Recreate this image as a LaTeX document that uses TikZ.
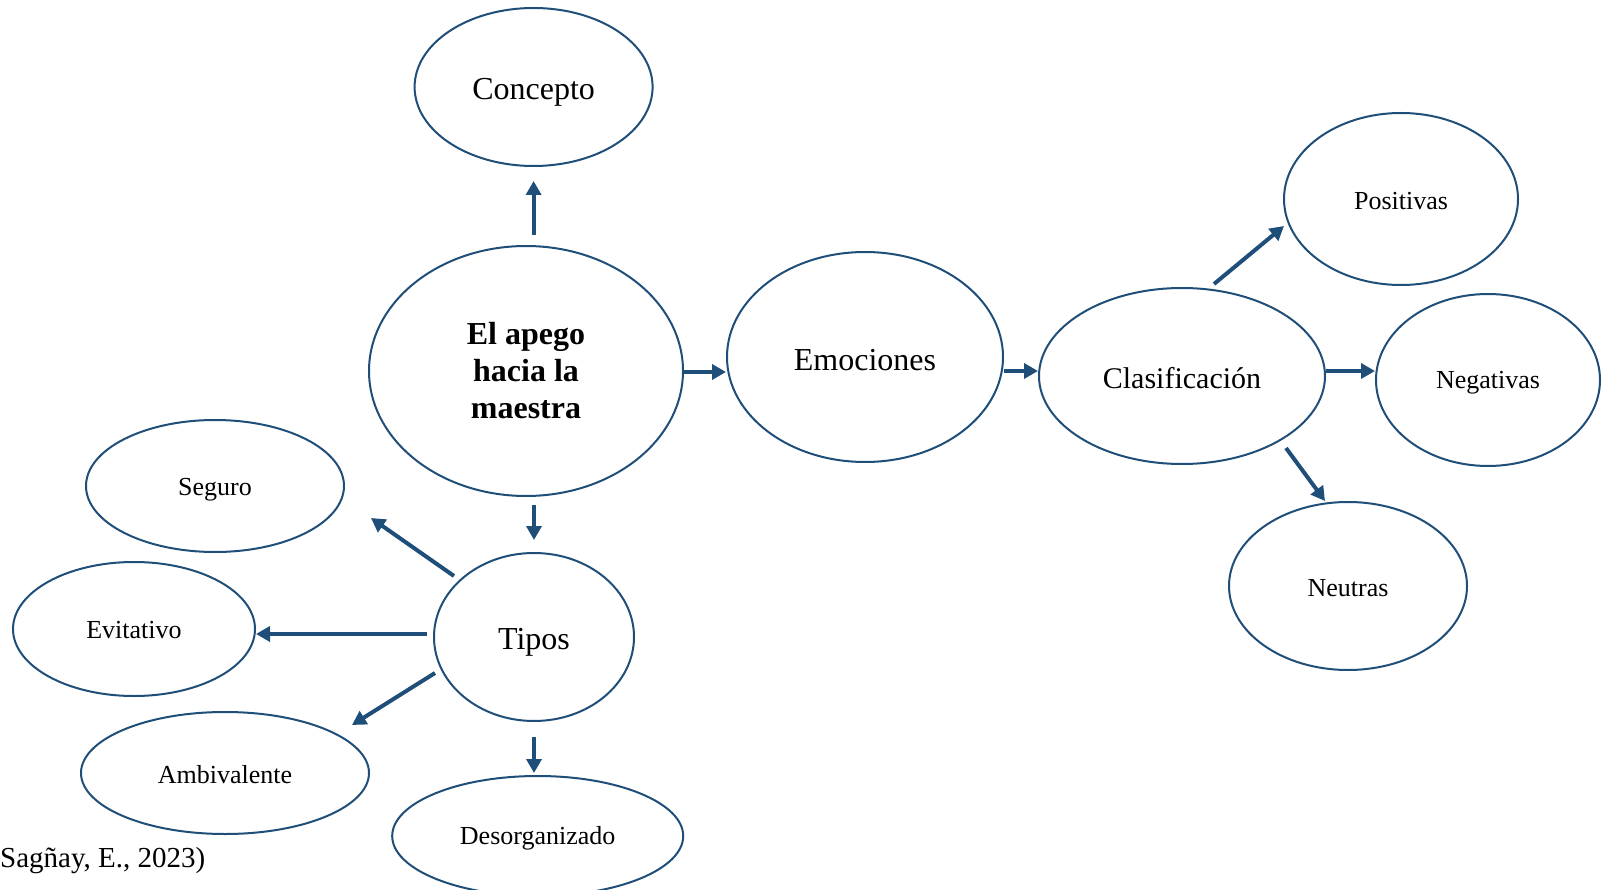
\documentclass[tikz,border=0pt]{standalone}
\usepackage{fontspec}
\setmainfont{Liberation Serif}
\usetikzlibrary{shapes.geometric,arrows.meta,calc}
\definecolor{lineblue}{RGB}{31,78,121}
\newcommand{\dn}[2][4pt]{\raisebox{-#1}[\height][\depth]{#2}}
\tikzset{
  oval/.style={ellipse, draw=lineblue, line width=2pt, inner sep=0pt, fill=white, align=center},
  big/.style={font=\fontsize{32}{37}\selectfont},
  mid/.style={font=\fontsize{30}{35}\selectfont},
  small/.style={font=\fontsize{26}{30}\selectfont},
  arr/.style={draw=lineblue, line width=4pt, -{Triangle[length=14pt,width=15pt]}}
}
\begin{document}
\begin{tikzpicture}[x=1pt,y=-1pt]
\useasboundingbox (0,0) rectangle (1606,890);
% nodes
\node[oval,big,minimum width=238pt,minimum height=158pt] (concepto) at (533.6,87) {\dn[5pt]{Concepto}};
\node[oval,big,minimum width=314pt,minimum height=250pt] (apego) at (526,371) {\textbf{El apego}\\\textbf{hacia la}\\\textbf{maestra}};
\node[oval,big,minimum width=276pt,minimum height=210pt] (emociones) at (865,357) {\dn[3pt]{Emociones}};
\node[oval,mid,minimum width=286pt,minimum height=176pt] (clasif) at (1182,376) {\dn[2pt]{Clasificación}};
\node[oval,small,minimum width=234pt,minimum height=172pt] (positivas) at (1401,199) {\dn[2pt]{Positivas}};
\node[oval,small,minimum width=224pt,minimum height=172pt] (negativas) at (1488,380) {\dn[3pt]{Negativas}};
\node[oval,small,minimum width=238pt,minimum height=168pt] (neutras) at (1348,586) {\dn[2pt]{Neutras}};
\node[oval,big,minimum width=200pt,minimum height=168pt] (tipos) at (534,637) {\dn[5pt]{Tipos}};
\node[oval,small,minimum width=258pt,minimum height=132pt] (seguro) at (215,486) {\dn[4pt]{Seguro}};
\node[oval,small,minimum width=242pt,minimum height=134pt] (evitativo) at (134,629) {\dn[1pt]{Evitativo}};
\node[oval,small,minimum width=288pt,minimum height=122pt] (ambivalente) at (225,773) {\dn[2pt]{Ambivalente}};
\node[oval,small,minimum width=291pt,minimum height=120pt] (desorg) at (537.7,836) {\dn[2pt]{Desorganizado}};
\node[font=\fontsize{29}{33}\selectfont, anchor=west, inner sep=0pt] (cita) at (0,861) {Sagñay, E., 2023)};
% connectors
\draw[arr] ($(apego.north -| concepto.south)+(0,-10)$) -- ($(concepto.south)+(0,14)$);
\draw[arr] ($(apego.south -| tipos.north)+(0,8)$) -- ($(tipos.north)+(0,-12)$);
\draw[arr] ($(apego.east)+(0,1)$) -- ($(apego.east -| emociones.west)+(0,1)$);
\draw[arr] ($(clasif.west -| emociones.east)+(0,-5)$) -- ($(clasif.west)+(0,-5)$);
\draw[arr] ($(clasif.center)+(32,-92)$) -- ($(positivas.center)+(-117,27)$);
\draw[arr] ($(clasif.east)+(0,-5)$) -- ($(clasif.east -| negativas.west)+(0,-5)$);
\draw[arr] ($(clasif.center)+(104,72)$) -- ($(neutras.center)+(-23,-85)$);
\draw[arr] ($(tipos.center)+(-80,-61)$) -- ($(seguro.center)+(156,32)$);
\draw[arr] ($(tipos.center)+(-107,-3)$) -- ($(evitativo.center)+(122,5)$);
\draw[arr] ($(tipos.center)+(-99,36)$) -- ($(ambivalente.center)+(127,-48)$);
\draw[arr] ($(tipos.south)+(0,15)$) -- ($(tipos.south |- desorg.north)+(0,-2)$);
\end{tikzpicture}
\end{document}
